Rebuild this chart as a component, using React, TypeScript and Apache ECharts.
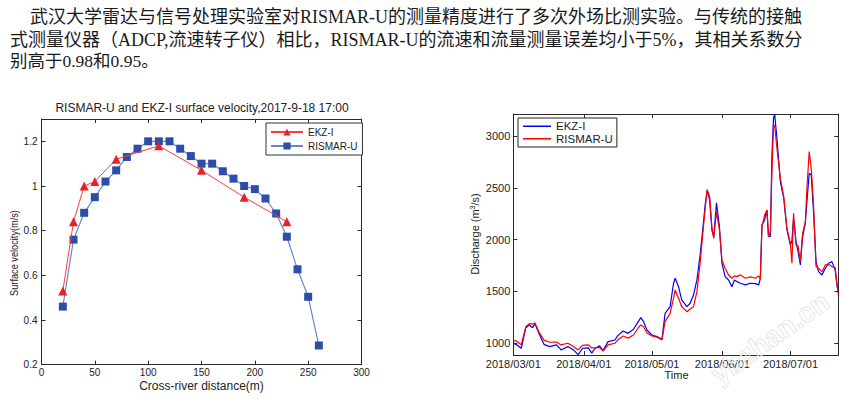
import React, { useEffect, useRef } from "react";
import * as echarts from "echarts";

// ---------- Text ----------
const paragraphLines = [
  "武汉大学雷达与信号处理实验室对RISMAR-U的测量精度进行了多次外场比测实验。与传统的接触",
  "式测量仪器（ADCP,流速转子仪）相比，RISMAR-U的流速和流量测量误差均小于5%，其相关系数分",
  "别高于0.98和0.95。",
];
const leftTitle = "RISMAR-U and EKZ-I surface velocity,2017-9-18 17:00";
const leftXName = "Cross-river distance(m)";
const leftYName = "Surface velocity(m/s)";
const rightXName = "Time";

// ---------- Left chart data ----------
const distEKZ = [20, 30, 40, 50, 70, 110, 150, 190, 230];
const velEKZ = [0.53, 0.84, 1.0, 1.02, 1.12, 1.18, 1.07, 0.95, 0.84];
const distRIS = [20, 30, 40, 50, 60, 70, 80, 90, 100, 110, 120, 130, 140, 150, 160, 170, 180, 190, 200, 210, 220, 230, 240, 250, 260];
const velRIS = [0.46, 0.76, 0.88, 0.95, 1.02, 1.07, 1.13, 1.167, 1.2, 1.2, 1.2, 1.167, 1.134, 1.1, 1.1, 1.066, 1.033, 1.0, 0.986, 0.944, 0.877, 0.773, 0.627, 0.504, 0.286];
const leftYTicks = [0.2, 0.4, 0.6, 0.8, 1, 1.2];

// ---------- Right chart data (days since 2018/03/01) ----------
const dischargeDays = [0, 1.5, 3.5, 5.5, 7, 8.5, 9.5, 11.5, 13.5, 16, 19, 21, 24, 26.5, 28.5, 30.5, 33, 34.5, 36, 38, 39.5, 41.7, 44.7, 46, 48.3, 50.5, 52.9, 55, 56.1, 57.3, 58.8, 61, 63.2, 65.4, 66.8, 69, 70.5, 71.2, 72.7, 74.1, 76.4, 77.8, 79.3, 80.8, 82.2, 83.4, 84.5, 85.3, 86.4, 87.4, 88.2, 89.4, 90.7, 91.8, 93.2, 94.7, 96.2, 97.3, 98.4, 99.9, 102.1, 104.3, 106.5, 108, 108.7, 109.4, 110.6, 111.6, 112.3, 113.1, 113.8, 114.5, 115, 116, 117.5, 119, 120.4, 121.9, 122.6, 123.3, 124.4, 125.3, 126.3, 127.3, 128.5, 129.2, 130.2, 131.1, 132.1, 133.2, 134.3, 135.8, 137.3, 138.7, 140.2, 141.6, 142.4, 143];
const dischargeEKZ = [1000, 985, 952, 1150, 1177, 1150, 1190, 1085, 990, 968, 984, 936, 968, 936, 890, 952, 955, 905, 952, 975, 930, 1016, 1032, 1074, 1119, 1096, 1135, 1209, 1247, 1209, 1128, 1080, 1064, 1038, 1289, 1353, 1579, 1627, 1546, 1418, 1353, 1386, 1466, 1611, 1852, 2110, 2351, 2472, 2383, 2093, 2029, 2355, 2125, 1772, 1643, 1611, 1546, 1610, 1595, 1579, 1563, 1579, 1575, 1563, 1627, 2142, 2190, 2286, 2029, 2030, 2817, 3171, 3210, 2978, 2559, 2399, 2093, 1949, 1990, 2206, 1981, 1884, 1756, 2029, 2158, 2367, 2640, 2624, 2270, 1788, 1691, 1659, 1724, 1772, 1788, 1708, 1563, 1490];
const dischargeRIS = [1025, 1020, 985, 1160, 1190, 1185, 1195, 1100, 1030, 1010, 1012, 984, 1000, 968, 936, 980, 985, 955, 955, 960, 925, 984, 1000, 1032, 1070, 1050, 1080, 1150, 1177, 1160, 1100, 1070, 1060, 1032, 1209, 1289, 1434, 1514, 1434, 1353, 1305, 1330, 1353, 1498, 1772, 2061, 2319, 2484, 2415, 2110, 2013, 2270, 2093, 1804, 1724, 1659, 1627, 1650, 1643, 1660, 1627, 1640, 1627, 1650, 1620, 2125, 2238, 2286, 2029, 2077, 2656, 3107, 3100, 2881, 2592, 2415, 2110, 1965, 1772, 2254, 1949, 1940, 1788, 2061, 2174, 2496, 2849, 2688, 2334, 1740, 1724, 1691, 1756, 1762, 1740, 1730, 1579, 1466];
const monthTickDays = [0, 31, 61, 92, 122];
const monthTickLabels = ["2018/03/01", "2018/04/01", "2018/05/01", "2018/06/01", "2018/07/01"];
const rightYTicks = [1000, 1500, 2000, 2500, 3000];

const AX = "#2a2a2a";
const SANS = "'Liberation Sans', Arial, Helvetica, sans-serif";
const SERIF = "'Liberation Serif', 'Noto Sans CJK SC', serif";

function mirrorAxisBase(extra: any) {
  return {
    type: "value",
    axisLine: { show: true, onZero: false, lineStyle: { color: AX, width: 1 } },
    axisTick: { show: true, inside: true, length: 4, lineStyle: { color: AX } },
    splitLine: { show: false },
    ...extra,
  };
}

export default function App() {
  const ref = useRef<HTMLDivElement>(null);
  useEffect(() => {
    const chart = echarts.init(ref.current!, null, { renderer: "svg" });
    const zip = (xs: number[], ys: number[]) => xs.map((x, i) => [x, ys[i]]);
    const monthFmt = (v: number) => {
      const i = monthTickDays.indexOf(v);
      return i >= 0 ? monthTickLabels[i] : "";
    };
    const option: any = {
      animation: false,
      backgroundColor: "#fff",
      textStyle: { fontFamily: SANS },
      grid: [
        { left: 41.5, top: 119, width: 320, height: 245.7 },
        { left: 513.3, top: 114, width: 325, height: 241 },
      ],
      xAxis: [
        mirrorAxisBase({
          gridIndex: 0, min: 0, max: 300, interval: 50, position: "bottom",
          axisLabel: { fontSize: 10, color: "#222", margin: 3 },
        }),
        mirrorAxisBase({
          gridIndex: 0, min: 0, max: 300, interval: 50, position: "top",
          axisLabel: { show: false },
        }),
        mirrorAxisBase({
          gridIndex: 1, min: 0, max: 143, position: "bottom",
          axisLabel: { customValues: monthTickDays, formatter: monthFmt, fontSize: 11, color: "#222", margin: 3 },
          axisTick: { show: true, inside: true, length: 4, customValues: monthTickDays, lineStyle: { color: AX } },
        }),
        mirrorAxisBase({
          gridIndex: 1, min: 0, max: 143, position: "top",
          axisLabel: { show: false },
          axisTick: { show: true, inside: true, length: 4, customValues: monthTickDays, lineStyle: { color: AX } },
        }),
      ],
      yAxis: [
        mirrorAxisBase({
          gridIndex: 0, min: 0.2, max: 1.3, position: "left",
          axisLabel: { customValues: leftYTicks, fontSize: 10, color: "#222", margin: 4 },
          axisTick: { show: true, inside: true, length: 4, customValues: leftYTicks, lineStyle: { color: AX } },
        }),
        mirrorAxisBase({
          gridIndex: 0, min: 0.2, max: 1.3, position: "right",
          axisLabel: { show: false },
          axisTick: { show: true, inside: true, length: 4, customValues: leftYTicks, lineStyle: { color: AX } },
        }),
        mirrorAxisBase({
          gridIndex: 1, min: 887, max: 3212, position: "left",
          axisLabel: { customValues: rightYTicks, formatter: (v: number) => String(v), fontSize: 11, color: "#222", margin: 3 },
          axisTick: { show: true, inside: true, length: 4, customValues: rightYTicks, lineStyle: { color: AX } },
        }),
        mirrorAxisBase({
          gridIndex: 1, min: 887, max: 3212, position: "right",
          axisLabel: { show: false },
          axisTick: { show: true, inside: true, length: 4, customValues: rightYTicks, lineStyle: { color: AX } },
        }),
      ],
      legend: [
        {
          data: ["EKZ-I", "RISMAR-U"], orient: "vertical", left: 266, top: 123,
          padding: [3, 5, 3, 4], itemWidth: 32, itemHeight: 9, itemGap: 2,
          borderColor: "#333", borderWidth: 1, borderRadius: 0, backgroundColor: "#fff",
          textStyle: { fontSize: 10, color: "#222", lineHeight: 12, fontFamily: SANS },
          selectedMode: false,
        },
        {
          data: [
            { name: "EKZ-I ", icon: "rect" },
            { name: "RISMAR-U ", icon: "rect" },
          ],
          orient: "vertical", left: 518, top: 118,
          padding: [2, 4, 2, 5], itemWidth: 28, itemHeight: 1.5, itemGap: 0,
          borderColor: "#222", borderWidth: 1, borderRadius: 0, backgroundColor: "#fff",
          formatter: (n: string) => n.trim(),
          textStyle: { fontSize: 11.5, color: "#222", lineHeight: 12.5, fontFamily: SANS },
          selectedMode: false,
        },
      ],
      series: [
        {
          name: "EKZ-I", type: "line", xAxisIndex: 0, yAxisIndex: 0,
          data: zip(distEKZ, velEKZ), symbol: "triangle", symbolSize: 9,
          lineStyle: { color: "#ff3a3a", width: 1 }, itemStyle: { color: "#e8202a" }, z: 3,
        },
        {
          name: "RISMAR-U", type: "line", xAxisIndex: 0, yAxisIndex: 0,
          data: zip(distRIS, velRIS), symbol: "rect", symbolSize: 8,
          lineStyle: { color: "#6f83c9", width: 1.2 }, itemStyle: { color: "#2d4ea8" }, z: 2,
        },
        {
          name: "EKZ-I ", type: "line", xAxisIndex: 2, yAxisIndex: 2,
          data: zip(dischargeDays, dischargeEKZ), symbol: "none", showSymbol: false, clip: true,
          lineStyle: { color: "#0000ff", width: 1.2 }, itemStyle: { color: "#0000ff" },
        },
        {
          name: "RISMAR-U ", type: "line", xAxisIndex: 2, yAxisIndex: 2,
          data: zip(dischargeDays, dischargeRIS), symbol: "none", showSymbol: false, clip: true,
          lineStyle: { color: "#ff0000", width: 1.2 }, itemStyle: { color: "#ff0000" },
        },
      ],
      graphic: [
        { type: "text", x: 30, y: 17, style: { text: paragraphLines[0], font: `18px ${SERIF}`, fill: "#1a1a1a", verticalAlign: "middle" } },
        { type: "text", x: 10, y: 40, style: { text: paragraphLines[1], font: `18px ${SERIF}`, fill: "#1a1a1a", verticalAlign: "middle" } },
        { type: "text", x: 10, y: 61, style: { text: paragraphLines[2], font: `17.5px ${SERIF}`, fill: "#1a1a1a", verticalAlign: "middle" } },
        { type: "text", x: 202, y: 108, style: { text: leftTitle, font: `12px ${SANS}`, fill: "#222", align: "center", verticalAlign: "middle" } },
        { type: "text", x: 201.5, y: 385.5, style: { text: leftXName, font: `12px ${SANS}`, fill: "#222", align: "center", verticalAlign: "middle" } },
        { type: "text", x: 14, y: 253, rotation: Math.PI / 2, scaleX: 0.8, style: { text: leftYName, font: `11.5px ${SANS}`, fill: "#222", align: "center", verticalAlign: "middle" } },
        { type: "text", x: 676.5, y: 375, style: { text: rightXName, font: `11px ${SANS}`, fill: "#222", align: "center", verticalAlign: "middle" } },
        {
          type: "text", x: 475, y: 234, rotation: Math.PI / 2,
          style: {
            text: "Discharge (m{sup|3}/s)", fontSize: 11, fontFamily: SANS, fill: "#222",
            align: "center", verticalAlign: "middle",
            rich: { sup: { fontSize: 7, fontFamily: SANS, fill: "#222", verticalAlign: "top", lineHeight: 13 } },
          },
        },
        {
          type: "text", x: 770, y: 338, rotation: (35 * Math.PI) / 180, z: 100,
          style: { text: "ybzhan.cn", font: `bold 28px ${SANS}`, fill: "rgba(0,0,0,0)", stroke: "#e8e8e8", lineWidth: 1, align: "center", verticalAlign: "middle" },
        },
      ],
    };
    chart.setOption(option);
    return () => chart.dispose();
  }, []);
  return <div ref={ref} style={{ position: "absolute", left: 0, top: 0, width: 860, height: 399, background: "#fff" }} />;
}
